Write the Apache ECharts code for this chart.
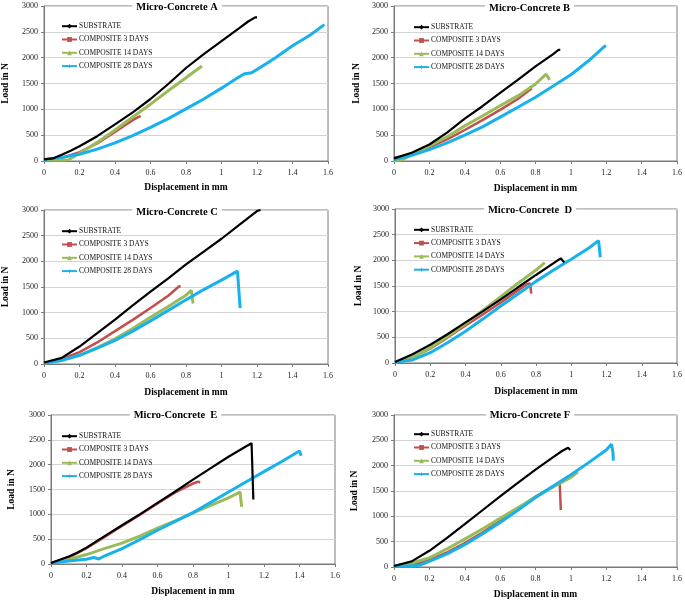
<!DOCTYPE html>
<html>
<head>
<meta charset="utf-8">
<script src="https://cdn.jsdelivr.net/npm/echarts@6/dist/echarts.min.js"></script>
<style>
html,body{margin:0;padding:0;background:#fff;}
#chart{width:685px;height:601px;}
</style>
</head>
<body>
<div id="chart"></div>
<script>
// ---- Data (displacement mm, load N) ----
const seriesNames = ['SUBSTRATE', 'COMPOSITE 3 DAYS', 'COMPOSITE 14 DAYS', 'COMPOSITE 28 DAYS'];
const panelTitles = ['Micro-Concrete A', 'Micro-Concrete B', 'Micro-Concrete C', 'Micro-Concrete  D', 'Micro-Concrete  E', 'Micro-Concrete F'];
const xTicks = [0, 0.2, 0.4, 0.6, 0.8, 1, 1.2, 1.4, 1.6];
const yTicks = [0, 500, 1000, 1500, 2000, 2500, 3000];

const A_SUB = [[0,30],[0.05,50],[0.1,120],[0.15,200],[0.2,285],[0.3,480],[0.4,710],[0.5,940],[0.6,1200],[0.7,1490],[0.8,1800],[0.9,2070],[1.0,2320],[1.1,2570],[1.15,2700],[1.19,2780],[1.2,2780]];
const A_C3 = [[0,20],[0.1,60],[0.2,170],[0.3,340],[0.4,560],[0.45,680],[0.5,790],[0.53,850],[0.545,870]];
const A_C14 = [[0,20],[0.1,20],[0.14,25],[0.2,150],[0.3,360],[0.4,600],[0.5,850],[0.6,1100],[0.7,1360],[0.8,1610],[0.89,1840]];
const A_C28 = [[0,30],[0.1,70],[0.2,130],[0.3,230],[0.4,350],[0.5,490],[0.6,650],[0.7,820],[0.8,1010],[0.9,1200],[1.0,1410],[1.1,1630],[1.13,1690],[1.17,1710],[1.2,1770],[1.3,1990],[1.4,2230],[1.5,2440],[1.58,2640]];

const B_SUB = [[0,50],[0.1,160],[0.2,320],[0.3,550],[0.4,820],[0.5,1060],[0.6,1320],[0.7,1570],[0.8,1830],[0.9,2070],[0.93,2150],[0.94,2150]];
const B_C3 = [[0,60],[0.1,130],[0.2,270],[0.3,420],[0.4,600],[0.5,790],[0.6,990],[0.7,1200],[0.78,1410]];
const B_C14 = [[0,0],[0.05,30],[0.1,120],[0.2,290],[0.3,470],[0.4,680],[0.5,870],[0.6,1070],[0.7,1260],[0.8,1490],[0.86,1680],[0.87,1660],[0.88,1570]];
const B_C28 = [[0,30],[0.1,110],[0.2,220],[0.3,350],[0.4,500],[0.5,660],[0.6,850],[0.7,1040],[0.8,1235],[0.9,1450],[1.0,1670],[1.1,1940],[1.19,2220],[1.2,2220]];

const C_SUB = [[0,30],[0.1,120],[0.2,340],[0.3,600],[0.4,865],[0.5,1140],[0.6,1410],[0.7,1670],[0.8,1940],[0.9,2190],[1.0,2440],[1.1,2710],[1.2,2980],[1.22,3000]];
const C_C3 = [[0,20],[0.1,100],[0.2,230],[0.3,420],[0.4,640],[0.5,860],[0.6,1090],[0.7,1330],[0.76,1510],[0.77,1515]];
const C_C14 = [[0,20],[0.1,70],[0.2,170],[0.3,320],[0.4,490],[0.5,690],[0.6,910],[0.7,1120],[0.8,1340],[0.83,1435],[0.84,1180]];
const C_C28 = [[0,20],[0.1,70],[0.2,170],[0.3,310],[0.4,460],[0.5,640],[0.6,840],[0.7,1045],[0.8,1250],[0.9,1450],[1.0,1635],[1.09,1810],[1.1,1825],[1.105,1090]];

const D_SUB = [[0,20],[0.1,170],[0.2,355],[0.3,565],[0.4,790],[0.5,1010],[0.6,1240],[0.7,1480],[0.8,1715],[0.9,1945],[0.94,2040],[0.95,2030],[0.96,1960]];
const D_C3 = [[0,20],[0.1,110],[0.2,280],[0.3,500],[0.4,730],[0.5,950],[0.6,1180],[0.7,1420],[0.75,1540],[0.767,1550],[0.773,1350]];
const D_C14 = [[0,20],[0.1,110],[0.2,290],[0.3,520],[0.4,770],[0.5,1030],[0.6,1290],[0.7,1560],[0.8,1810],[0.85,1955]];
const D_C28 = [[0,20],[0.1,60],[0.2,200],[0.3,400],[0.4,620],[0.5,860],[0.6,1110],[0.7,1350],[0.8,1590],[0.9,1810],[1.0,2020],[1.1,2240],[1.155,2385],[1.165,2060]];

const E_SUB = [[0,20],[0.1,150],[0.15,230],[0.2,330],[0.3,555],[0.4,780],[0.5,1000],[0.6,1230],[0.7,1460],[0.8,1700],[0.9,1930],[1.0,2160],[1.1,2370],[1.13,2430],[1.14,1300]];
const E_C3 = [[0,20],[0.1,130],[0.2,320],[0.3,540],[0.4,765],[0.5,990],[0.6,1220],[0.7,1440],[0.8,1620],[0.83,1660],[0.84,1640]];
const E_C14 = [[0,20],[0.1,90],[0.2,190],[0.3,310],[0.4,420],[0.5,560],[0.6,720],[0.7,870],[0.8,1030],[0.9,1180],[1.0,1330],[1.065,1450],[1.074,1150]];
const E_C28 = [[0,20],[0.1,60],[0.2,95],[0.24,130],[0.27,100],[0.3,160],[0.4,310],[0.5,490],[0.6,680],[0.7,860],[0.8,1035],[0.9,1240],[1.0,1450],[1.1,1655],[1.2,1860],[1.3,2065],[1.4,2275],[1.41,2180]];

const F_SUB = [[0,20],[0.1,110],[0.2,320],[0.3,575],[0.4,845],[0.5,1120],[0.6,1395],[0.7,1660],[0.8,1920],[0.9,2170],[0.95,2290],[0.984,2355],[0.997,2310]];
const F_C3 = [[0,20],[0.1,40],[0.2,140],[0.3,290],[0.4,470],[0.5,680],[0.6,910],[0.7,1150],[0.8,1390],[0.9,1590],[0.937,1650],[0.943,1125]];
const F_C14 = [[0,20],[0.1,80],[0.2,180],[0.3,360],[0.4,550],[0.5,750],[0.6,960],[0.7,1170],[0.8,1380],[0.9,1580],[1.0,1770],[1.04,1880]];
const F_C28 = [[0,20],[0.1,20],[0.15,40],[0.2,110],[0.3,260],[0.4,440],[0.5,650],[0.6,880],[0.7,1120],[0.8,1370],[0.9,1600],[1.0,1820],[1.1,2060],[1.2,2310],[1.23,2425],[1.238,2255],[1.24,2100]];

const panelData = [
  [A_SUB, A_C3, A_C14, A_C28],
  [B_SUB, B_C3, B_C14, B_C28],
  [C_SUB, C_C3, C_C14, C_C28],
  [D_SUB, D_C3, D_C14, D_C28],
  [E_SUB, E_C3, E_C14, E_C28],
  [F_SUB, F_C3, F_C14, F_C28]
];

// ---- Styling / layout ----
const colors = ['#000000', '#C0504D', '#9BBB59', '#17B1EE'];
const widths = [2.2, 2.5, 3, 3];
const symbols = ['diamond', 'rect', 'triangle', 'path://M0,4 L3,3 L4,0 L5,3 L8,4 L5,5 L4,8 L3,5 Z'];
const FONT = '"Liberation Serif", "Times New Roman", serif';

// plot area rectangles [left, top, right, bottom]
const rects = [
  [43, 6, 328, 161],
  [394, 6, 680, 161],
  [43, 210, 328, 364],
  [395, 209, 680, 363],
  [51, 415, 335, 564],
  [394, 415, 680, 568]
];
const titlePos = [[173, 7.5], [525.5, 8.3], [173, 212.3], [526, 211], [171.5, 416], [526, 416]];
const legendPos = [[61, 26.7], [413, 27.7], [61, 231.7], [413, 230.3], [61, 436.7], [413, 434.7]];
const yNameCx = [5, 357, 5, 359, 11.5, 355];
const xNameCy = [187, 187.7, 391.7, 391, 591, 595];

const grids = [], xAxes = [], yAxes = [], titles = [], legends = [], series = [];
rects.forEach((r, i) => {
  grids.push({left: r[0], top: r[1], width: r[2] - r[0], height: r[3] - r[1],
    show: true, borderColor: '#7a7a7a', borderWidth: 1, backgroundColor: 'transparent',
    containLabel: false});
  xAxes.push({type: 'value', gridIndex: i, min: 0, max: 1.6, interval: 0.2,
    name: 'Displacement in mm', nameLocation: 'middle', nameGap: xNameCy[i] - r[3] - 4,
    nameTextStyle: {fontFamily: FONT, fontWeight: 'bold', fontSize: 9.5, color: '#000'},
    axisLine: {show: true, onZero: false, lineStyle: {color: '#7a7a7a', width: 1}},
    axisTick: {show: true, inside: false, length: 3, lineStyle: {color: '#7a7a7a'}},
    axisLabel: {fontFamily: FONT, fontSize: 8, color: '#222', margin: 8,
      formatter: v => { const t = xTicks.find(k => Math.abs(k - v) < 1e-6); return t === undefined ? '' : String(t); }},
    splitLine: {show: false}});
  yAxes.push({type: 'value', gridIndex: i, min: 0, max: 3000, interval: 500,
    name: 'Load in N', nameLocation: 'middle', nameRotate: 90, nameGap: r[0] - yNameCx[i] - 5,
    nameTextStyle: {fontFamily: FONT, fontWeight: 'bold', fontSize: 9.5, color: '#000'},
    axisLine: {show: true, lineStyle: {color: '#7a7a7a', width: 1}},
    axisTick: {show: true, inside: false, length: 3, lineStyle: {color: '#7a7a7a'}},
    axisLabel: {fontFamily: FONT, fontSize: 8, color: '#222', margin: 6,
      formatter: v => { const t = yTicks.find(k => Math.abs(k - v) < 1e-6); return t === undefined ? '' : String(t); }},
    splitLine: {show: true, lineStyle: {color: '#d4d4d4', width: 1}}});
  titles.push({text: panelTitles[i], left: titlePos[i][0], top: titlePos[i][1] - 7,
    textAlign: 'center', backgroundColor: '#fff', padding: [1, 4],
    textStyle: {fontFamily: FONT, fontWeight: 'bold', fontSize: 10.5, color: '#000'}, z: 10});
  legends.push({orient: 'vertical', left: legendPos[i][0], top: legendPos[i][1] - 4.5,
    itemWidth: 15, itemHeight: 6, itemGap: 5.3, padding: 0, selectedMode: false,
    data: seriesNames,
    textStyle: {fontFamily: FONT, fontSize: 7.5, color: '#111', padding: [0, 0, 0, -3]}});
  panelData[i].forEach((d, k) => {
    series.push({type: 'line', name: seriesNames[k], xAxisIndex: i, yAxisIndex: i,
      data: d, showSymbol: false, symbol: symbols[k], symbolSize: 5,
      lineStyle: {color: colors[k], width: widths[k]}, itemStyle: {color: colors[k]},
      animation: false, z: 2 + (k === 0 ? 4 : k)});
  });
});

const chart = echarts.init(document.getElementById('chart'), null, {renderer: 'canvas'});
chart.setOption({
  animation: false,
  backgroundColor: '#fff',
  grid: grids, xAxis: xAxes, yAxis: yAxes, title: titles, legend: legends, series: series
});
</script>
</body>
</html>
